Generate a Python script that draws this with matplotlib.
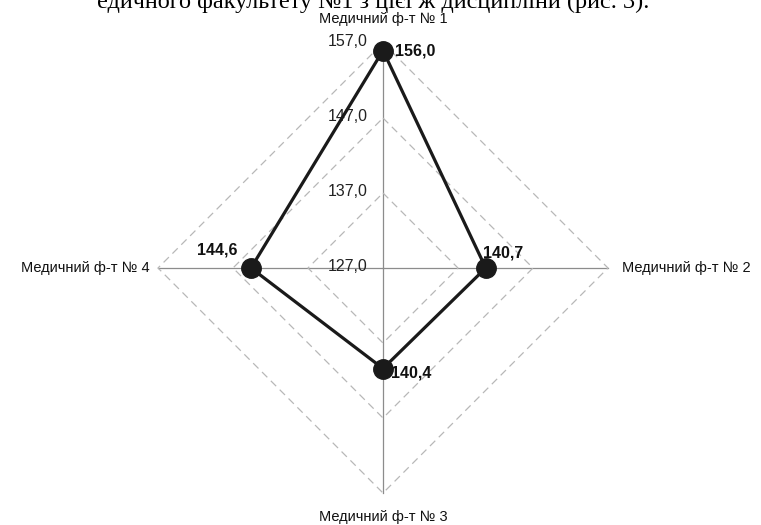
import numpy as np
import matplotlib.pyplot as plt

plt.rcParams['font.family'] = ['Liberation Sans', 'DejaVu Sans']

categories = ["Медичний ф-т № 1", "Медичний ф-т № 2", "Медичний ф-т № 3", "Медичний ф-т № 4"]
values = [156.0, 140.7, 140.4, 144.6]
rings = [137.0, 147.0, 157.0]
tick_vals = [127.0, 137.0, 147.0, 157.0]
r_min, r_max = 127.0, 157.0

def fmt(v):
    return f"{v:.1f}".replace(".", ",")

fig = plt.figure(figsize=(7.61, 5.25), dpi=100)
fig.patch.set_facecolor("white")

# partly cropped line of body text at the very top (scan of a document)
fig.text(97 / 761, 1 - 8 / 525, "едичного факультету №1 з цієї ж дисципліни (рис. 3).",
         family=["Liberation Serif", "DejaVu Serif"], fontsize=17.5, ha="left", va="baseline")

ax = fig.add_axes([158 / 761, 32 / 525, 450 / 761, 450 / 525], projection="polar")
ax.set_theta_zero_location("N")
ax.set_theta_direction(-1)
ax.set_ylim(r_min, r_max)
ax.axis("off")

theta = np.linspace(0, 2 * np.pi, len(categories), endpoint=False)
closed_t = np.append(theta, theta[0])

# spokes
for t in theta:
    ax.plot([t, t], [r_min, r_max], color="#8c8c8c", lw=0.9, clip_on=False, zorder=1)

# dashed diamond grid
for r in rings:
    ax.plot(closed_t, [r] * len(closed_t), color="#b8b8b8", lw=0.9,
            ls=(0, (6, 4)), clip_on=False, zorder=1)

# radial tick labels along the top spoke
for v in tick_vals:
    ax.annotate(fmt(v), (0, v), xytext=(-11, 1), textcoords="offset points",
                ha="right", va="center", fontsize=11.5, color="#222222")

# series
vals_closed = values + values[:1]
ax.plot(closed_t, vals_closed, color="#1a1a1a", lw=2.3, zorder=3, clip_on=False)
ax.plot(theta, values, "o", color="#1a1a1a", ms=14, zorder=4, clip_on=False)

# value labels
offsets = [(9, 0, "left", "center"), (-2, 11, "left", "center"),
           (6, -3, "left", "center"), (-10, 13, "right", "center")]
for t, v, (dx, dy, ha, va) in zip(theta, values, offsets):
    ax.annotate(fmt(v), (t, v), xytext=(dx, dy), textcoords="offset points",
                ha=ha, va=va, fontsize=11.5, fontweight="bold", color="#111111")

# category labels
cat_pos = [(0, 12, "center", "bottom"), (10, 0, "left", "center"),
           (0, -12, "center", "top"), (-6, 0, "right", "center")]
for t, name, (dx, dy, ha, va) in zip(theta, categories, cat_pos):
    ax.annotate(name, (t, r_max), xytext=(dx, dy), textcoords="offset points",
                ha=ha, va=va, fontsize=10.5, color="#111111")

fig.savefig("out.png", dpi=100, facecolor="white")
